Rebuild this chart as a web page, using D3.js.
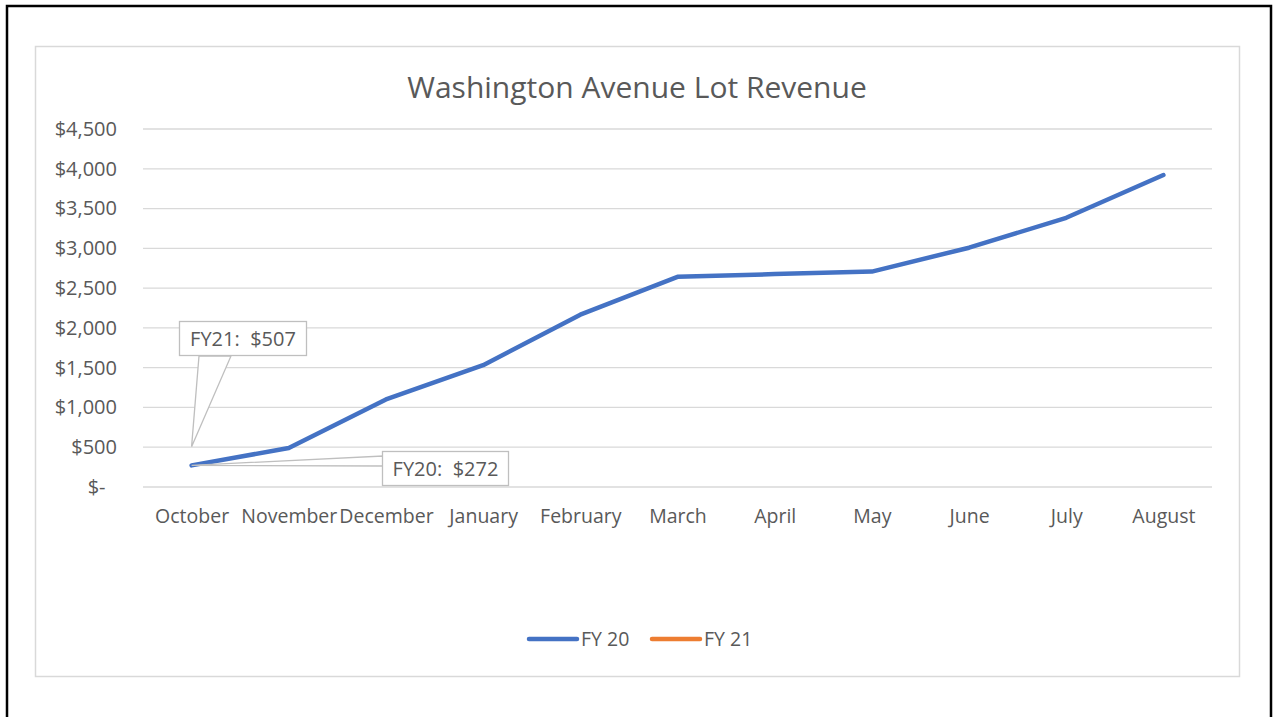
<!DOCTYPE html>
<html>
<head>
<meta charset="utf-8">
<script src="https://cdn.jsdelivr.net/npm/d3@7"></script>
<style>
  body { margin: 0; background: #fff; }
  svg text { font-family: "Open Sans", sans-serif; fill: #595959; }
</style>
</head>
<body>
<svg width="1276" height="717"></svg>
<script>
// data
var months = ["October", "November", "December", "January", "February", "March",
              "April", "May", "June", "July", "August"];
var fy20 = [272, 490, 1100, 1531, 2166, 2642, 2676, 2708, 3008, 3384, 3921];
var fy21 = [507];
var yTicks = [0, 500, 1000, 1500, 2000, 2500, 3000, 3500, 4000, 4500];
var seriesNames = ["FY 20", "FY 21"];
var seriesColors = ["#4472C4", "#ED7D31"];

var svg = d3.select("svg");

// outer black frame (runs off the bottom of the picture)
svg.append("rect")
    .attr("x", 7).attr("y", 6).attr("width", 1264).attr("height", 800)
    .attr("fill", "none").attr("stroke", "#000").attr("stroke-width", 2.5);

// chart area border
svg.append("rect")
    .attr("x", 35.5).attr("y", 46.5).attr("width", 1204).attr("height", 630)
    .attr("fill", "#fff").attr("stroke", "#d9d9d9").attr("stroke-width", 1.5);

var x = d3.scalePoint().domain(months).range([143, 1212]).padding(0.5);
var y = d3.scaleLinear().domain([0, 4500]).range([487, 129]);

// title
svg.append("text")
    .attr("x", 637).attr("y", 98)
    .attr("text-anchor", "middle")
    .style("font-size", "30px")
    .text("Washington Avenue Lot Revenue");

// gridlines
svg.append("g").selectAll("line")
    .data(yTicks)
    .enter().append("line")
    .attr("x1", 143).attr("x2", 1212)
    .attr("y1", function (d) { return y(d); })
    .attr("y2", function (d) { return y(d); })
    .attr("stroke", "#d9d9d9").attr("stroke-width", 1.3);

// y axis labels
var yAxis = d3.axisLeft(y)
    .tickValues(yTicks)
    .tickSize(0)
    .tickPadding(0)
    .tickFormat(function (d) { return d === 0 ? "$-\u2007" : "$" + d3.format(",")(d); });
var gy = svg.append("g").attr("transform", "translate(117,0)").call(yAxis);
gy.select(".domain").remove();
gy.selectAll("text").style("font-size", "20px").attr("fill", "#595959");

// x axis labels
var xAxis = d3.axisBottom(x).tickSize(0).tickPadding(0);
var gx = svg.append("g").attr("transform", "translate(0,509)").call(xAxis);
gx.select(".domain").remove();
gx.selectAll("text").style("font-size", "19.5px").attr("fill", "#595959");

// lines (FY 21 has one point only, so nothing shows, as in Excel)
var line = d3.line()
    .x(function (d, i) { return x(months[i]); })
    .y(function (d) { return y(d); });

[fy20, fy21].forEach(function (s, k) {
    svg.append("path")
        .datum(s)
        .attr("d", line)
        .attr("fill", "none")
        .attr("stroke", seriesColors[k])
        .attr("stroke-width", 4.5)
        .attr("stroke-linejoin", "round")
        .attr("stroke-linecap", s.length > 1 ? "round" : "butt");
});

// data callouts
function callout(px, py, box, pointer, label) {
    var g = svg.append("g");
    g.append("path")
        .attr("d", "M" + px + "," + py + "L" + pointer[0][0] + "," + pointer[0][1] +
                   "L" + pointer[1][0] + "," + pointer[1][1] + "Z")
        .attr("fill", "#fff").attr("stroke", "#bfbfbf").attr("stroke-width", 1.3);
    g.append("rect")
        .attr("x", box[0]).attr("y", box[1]).attr("width", box[2]).attr("height", box[3])
        .attr("fill", "#fff").attr("stroke", "#bfbfbf").attr("stroke-width", 1.3);
    g.append("text")
        .attr("x", box[0] + box[2] / 2).attr("y", box[1] + box[3] / 2 + 7)
        .attr("text-anchor", "middle")
        .attr("xml:space", "preserve")
        .style("font-size", "20px")
        .text(label);
}

var p0 = x(months[0]);
callout(p0, y(fy21[0]), [179.5, 321.5, 127, 34], [[199, 356], [231, 356]], "FY21:  $" + fy21[0]);
callout(p0, y(fy20[0]), [382.5, 451.5, 126, 34], [[383, 456], [383, 466]], "FY20:  $" + fy20[0]);

// legend
var lg = svg.append("g").selectAll("g")
    .data(seriesNames)
    .enter().append("g")
    .attr("transform", function (d, i) { return "translate(" + (529 + i * 123) + ",639)"; });
lg.append("line")
    .attr("x1", 0).attr("x2", 48)
    .attr("stroke", function (d, i) { return seriesColors[i]; })
    .attr("stroke-width", 4.5).attr("stroke-linecap", "round");
lg.append("text")
    .attr("x", 52).attr("y", 7)
    .style("font-size", "19.5px")
    .text(function (d) { return d; });
</script>
</body>
</html>
